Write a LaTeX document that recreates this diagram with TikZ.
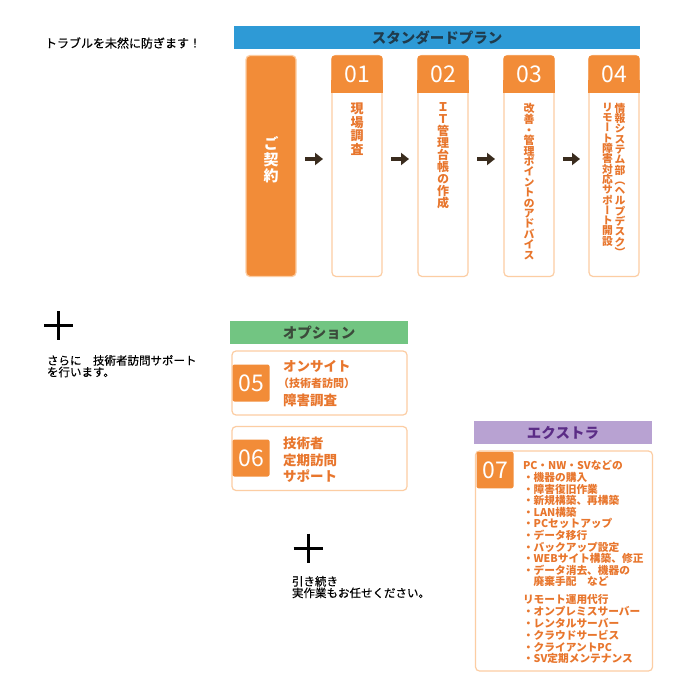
\documentclass[tikz,border=0pt]{standalone}
\usepackage{fontspec}
\setmainfont{Noto Sans CJK JP}
\newfontfamily\vjp[RawFeature=+vert]{Noto Sans CJK JP}
\newfontfamily\plainf[FakeBold=0.4]{Noto Sans CJK JP}
\usetikzlibrary{arrows.meta}
\definecolor{ofill}{HTML}{F28C38}
\definecolor{otext}{HTML}{E8762D}
\definecolor{oline}{HTML}{FCCDA3}
\definecolor{bluebar}{HTML}{2E9AD6}
\definecolor{bluetext}{HTML}{1F3B4D}
\definecolor{greenbar}{HTML}{72C582}
\definecolor{greentext}{HTML}{3B4B3B}
\definecolor{purplebar}{HTML}{B8A2D2}
\definecolor{purpletext}{HTML}{5B2C86}
\definecolor{arrowc}{HTML}{3A2C1E}
\begin{document}
\begin{tikzpicture}[x=1pt,y=-1pt,
  every node/.style={inner sep=0pt, outer sep=0pt},
  bar/.style={minimum height=23, font=\bfseries\fontsize{14.5}{14.5}\selectfont},
  card/.style={draw=oline, fill=white, line width=1.2pt, rounded corners=4pt, minimum width=50, minimum height=221},
  hdr/.style={fill=ofill, rounded corners=3pt, minimum width=51.2, minimum height=37.5, text=white, font=\fontsize{23}{23}\selectfont},
  vtext/.style={anchor=north, align=center, text=otext},
  arr/.style={draw=arrowc, line width=3.2pt, -{Triangle[length=8pt,width=12pt]}, shorten <=9pt, shorten >=9pt},
  ocard/.style={draw=oline, fill=white, line width=1.2pt, rounded corners=4pt},
  numsq/.style={fill=ofill, rounded corners=2pt, minimum width=37, minimum height=37, text=white, font=\fontsize{23}{23}\selectfont},
  otxt/.style={anchor=west, text=otext, font=\bfseries\fontsize{13.5}{13.5}\selectfont},
  ltxt/.style={anchor=west, text=otext, font=\bfseries\fontsize{10.7}{10.7}\selectfont},
  plain/.style={anchor=west, text=black, font=\plainf\fontsize{11.5}{11.5}\selectfont},
  plus/.style={line width=3pt, black}
]
\useasboundingbox (0,0) rectangle (700,700);
\fill[white] (0,0) rectangle (700,700);

% top-left text
\node[plain, font=\plainf\fontsize{12}{12}\selectfont] (intro) at (45,43) {トラブルを未然に防ぎます！};

% standard plan bar
\node[bar, fill=bluebar, minimum width=406, text=bluetext] (std) at (437,37.5) {スタンダードプラン};

% contract box
\node[draw=oline, fill=ofill, line width=1.2pt, rounded corners=4pt, minimum width=50, minimum height=221] (c0) at (271,166) {};
\node[anchor=center, align=center, text=white, font=\vjp\bfseries\fontsize{15}{16}\selectfont] (c0t) at (271,160) {ご\\契\\約};

% step cards
\node[card] (b1) at (357,166) {};
\node[card] (b2) at (443,166) {};
\node[card] (b3) at (529,166) {};
\node[card] (b4) at (614,166) {};
\foreach \cx in {357,443,529,614}{
  \fill[ofill] (\cx-25.6,80) rectangle (\cx+25.6,93);
}
\node[hdr] (h1) at (357,74.25) {01};
\node[hdr] (h2) at (443,74.25) {02};
\node[hdr] (h3) at (529,74.25) {03};
\node[hdr] (h4) at (614,74.25) {04};

\node[vtext, font=\vjp\bfseries\fontsize{13}{13.5}\selectfont] (t1) at (357,103) {現\\場\\調\\査};
\node[vtext, font=\vjp\bfseries\fontsize{12}{12}\selectfont] (t2) at (443,103) {Ｉ\\Ｔ\\管\\理\\台\\帳\\の\\作\\成};
\node[vtext, font=\vjp\bfseries\fontsize{11}{10.4}\selectfont] (t3) at (529,103) {改\\善\\・\\管\\理\\ポ\\イ\\ン\\ト\\の\\ア\\ド\\バ\\イ\\ス};
\node[vtext, font=\vjp\bfseries\fontsize{10.8}{10.3}\selectfont] (t4a) at (620,103) {情\\報\\シ\\ス\\テ\\ム\\部\\（\\ヘ\\ル\\プ\\デ\\ス\\ク\\）};
\node[vtext, font=\vjp\bfseries\fontsize{10.8}{10.3}\selectfont] (t4b) at (607.5,103) {リ\\モ\\ー\\ト\\障\\害\\対\\応\\サ\\ポ\\ー\\ト\\開\\設};

% arrows
\draw[arr] ([yshift=7pt]c0.east) -- ([yshift=7pt]b1.west);
\draw[arr] ([yshift=7pt]b1.east) -- ([yshift=7pt]b2.west);
\draw[arr] ([yshift=7pt]b2.east) -- ([yshift=7pt]b3.west);
\draw[arr] ([yshift=7pt]b3.east) -- ([yshift=7pt]b4.west);

% plus 1 and text
\draw[plus] (44,325) -- (73,325);
\draw[plus] (58.5,311) -- (58.5,340);
\node[plain, anchor=north west, align=left, font=\plainf\fontsize{11.5}{10.5}\selectfont] (opttxt) at (47,355) {さらに　技術者訪問サポート\\を行います。};

% option
\node[bar, fill=greenbar, minimum width=178, text=greentext] (opt) at (319,332.5) {オプション};
\node[ocard, minimum width=175, minimum height=64] (o5) at (319.5,383) {};
\node[ocard, minimum width=175, minimum height=64] (o6) at (319.5,458.5) {};
\node[numsq] (n5) at (251,383) {05};
\node[numsq] (n6) at (251,458) {06};
\node[otxt] (o5a) at (283,366) {オンサイト};
\node[otxt, font=\bfseries\fontsize{11}{11}\selectfont] (o5b) at (278,383) {（技術者訪問）};
\node[otxt] (o5c) at (283,400) {障害調査};
\node[otxt] (o6a) at (283,443) {技術者};
\node[otxt] (o6b) at (283,460) {定期訪問};
\node[otxt] (o6c) at (283,476) {サポート};

% plus 2 and text
\draw[plus] (293.5,548) -- (322.5,548);
\draw[plus] (308,533.5) -- (308,562.5);
\node[plain, anchor=north west, align=left, font=\plainf\fontsize{11.5}{10.5}\selectfont] (contxt) at (292,576) {引き続き\\実作業もお任せください。};

% extra
\node[bar, fill=purplebar, minimum width=178, text=purpletext] (ext) at (563,432.5) {エクストラ};
\node[ocard, minimum width=177, minimum height=220] (o7) at (564,561) {};
\node[numsq, minimum height=36.5] (n7) at (495,470) {07};
\foreach \t/\yy [count=\i] in {PC・NW・SVなどの/465, ・機器の購入/477, ・障害復旧作業/489, ・新規構築、再構築/500.5, ・LAN構築/512, ・PCセットアップ/523.5, ・データ移行/535, ・バックアップ設定/547, ・WEBサイト構築、修正/558.5, ・データ消去、機器の/570, 　廃棄手配　など/581.5, リモート運用代行/599, ・オンプレミスサーバー/611.5, ・レンタルサーバー/623.5, ・クラウドサービス/635.5, ・クライアントPC/647, ・SV定期メンテナンス/658.5}{
  \node[ltxt] (l\i) at (523,\yy) {\t};
}
\end{tikzpicture}
\end{document}
